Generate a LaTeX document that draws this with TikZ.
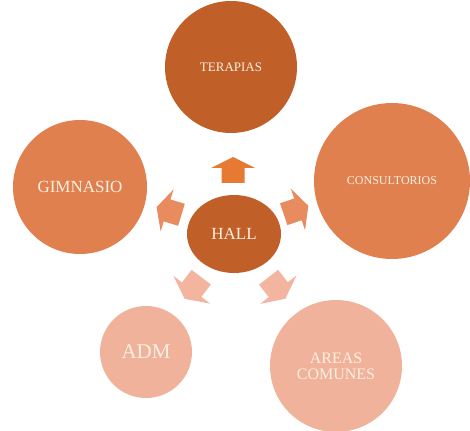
\documentclass[tikz,border=0pt]{standalone}
\usepackage{fontspec}
\setmainfont{Liberation Serif}
\usetikzlibrary{shapes.geometric}
\definecolor{cdark}{HTML}{C05F28}
\definecolor{cmid}{HTML}{E1804F}
\definecolor{clight}{HTML}{F0B29B}
\definecolor{aup}{HTML}{E67A32}
\definecolor{aside}{HTML}{E88C5F}
\definecolor{alow}{HTML}{F3B4A0}
\definecolor{ctext}{HTML}{FAF0E1}
\tikzset{
  bubble/.style={circle, inner sep=0pt, text=ctext, align=center},
  blockarrow/.pic={\fill[pic actions] (-13,-11.5) -- (2,-11.5) -- (2,-22) -- (13,0) -- (2,22) -- (2,11.5) -- (-13,11.5) -- cycle;}
}
\begin{document}
\begin{tikzpicture}[x=1pt,y=-1pt]
\useasboundingbox (0,0) rectangle (470,430);
\node[bubble, fill=cdark, minimum size=132pt, font=\fontsize{13}{15}\selectfont] (ter) at (231,67) {TERAPIAS};
\node[bubble, fill=cmid, minimum size=134pt, font=\fontsize{17}{19}\selectfont] (gim) at (80,187) {GIMNASIO};
\node[bubble, fill=cmid, minimum size=156pt, font=\fontsize{12}{14}\selectfont] (con) at (392,181) {CONSULTORIOS};
\node[bubble, fill=clight, minimum size=92pt, font=\fontsize{21}{23}\selectfont] (adm) at (146,352) {ADM};
\node[bubble, fill=clight, minimum size=132pt, font=\fontsize{16}{16}\selectfont] (are) at (336,366) {AREAS\\COMUNES};
\node[ellipse, fill=cdark, inner sep=0pt, minimum width=94pt, minimum height=78pt, text=ctext, font=\fontsize{17}{19}\selectfont] (hall) at (234,234) {HALL};
\pic[fill=aup, rotate=90] (aT) at (233,170) {blockarrow};
\pic[fill=aside, rotate=163] (aG) at (169,211) {blockarrow};
\pic[fill=aside, rotate=19] (aC) at (296,210) {blockarrow};
\pic[fill=alow, rotate=233, scale=1.05] (aA) at (193,288) {blockarrow};
\pic[fill=alow, rotate=-52, scale=1.05] (aR) at (277,288) {blockarrow};
\end{tikzpicture}
\end{document}
